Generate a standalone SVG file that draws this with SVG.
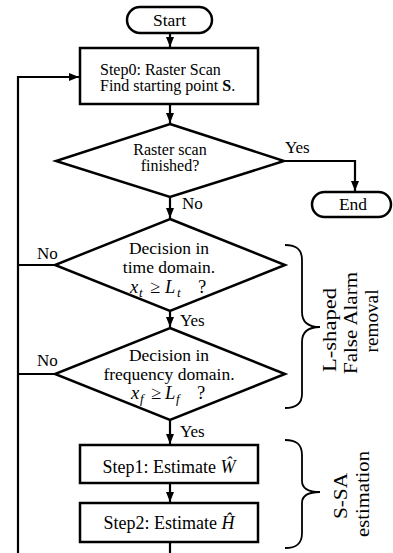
<svg xmlns="http://www.w3.org/2000/svg" width="393" height="553" viewBox="0 0 393 553" font-family="'Liberation Serif', 'DejaVu Serif', serif">
<defs>
<style>
.box{fill:#fff;stroke:#000;stroke-width:2.5}
.ln{fill:none;stroke:#000;stroke-width:2.2}
.br{fill:none;stroke:#000;stroke-width:1.8}
text{font-family:'Liberation Serif','DejaVu Serif',serif;fill:#000}
.t{font-size:17.5px;text-anchor:middle}
.t2{font-size:16px;text-anchor:middle}
.lb{font-size:17px}
.s0{font-size:16px}
.cm{font-size:18px;text-anchor:middle}
.m{font-size:18.5px}
.sub{font-size:13px;font-style:italic}
.rot{font-size:19px;text-anchor:middle}
.it{font-style:italic}
</style>
<marker id="ah" markerUnits="userSpaceOnUse" markerWidth="10" markerHeight="8" refX="10" refY="4" orient="auto">
<path d="M0,0 L10,4 L0,8 z" fill="#000"/>
</marker>
</defs>
<rect width="393" height="553" fill="#fff"/>

<g id="connectors">
<path class="ln" d="M170,33 V47" marker-end="url(#ah)"/>
<path class="ln" d="M170,104 V123" marker-end="url(#ah)"/>
<path class="ln" d="M284,161 H355 V191" marker-end="url(#ah)"/>
<path class="ln" d="M170,197 V218" marker-end="url(#ah)"/>
<path class="ln" d="M170,311 V327" marker-end="url(#ah)"/>
<path class="ln" d="M170,420 V444" marker-end="url(#ah)"/>
<path class="ln" d="M170,483 V502" marker-end="url(#ah)"/>
<path class="ln" d="M170,542 V553"/>
<path class="ln" d="M55,265 H18"/>
<path class="ln" d="M55,374 H18"/>
<path class="ln" d="M18,553 V77 H79" marker-end="url(#ah)"/>
<text class="lb" x="285" y="153">Yes</text>
<text class="lb" x="182" y="209">No</text>
<text class="lb" x="37" y="259">No</text>
<text class="lb" x="180" y="326">Yes</text>
<text class="lb" x="37" y="366">No</text>
<text class="lb" x="180" y="437">Yes</text>
</g>

<g id="start">
<rect class="box" x="127" y="7" width="85" height="26" rx="13"/>
<text class="t" x="169.5" y="26">Start</text>
</g>

<g id="step0">
<rect class="box" x="80" y="48" width="178" height="56"/>
<text class="s0" x="100" y="75">Step0: Raster Scan</text>
<text class="s0" x="100" y="91">Find starting point <tspan font-weight="bold">S</tspan>.</text>
</g>

<g id="d1">
<polygon class="box" points="170,124 284,161 170,197 56,161"/>
<text class="t2" x="170" y="155">Raster scan</text>
<text class="t2" x="170" y="171">finished?</text>
</g>

<g id="end">
<rect class="box" x="312" y="192" width="79" height="25" rx="12.5"/>
<text class="t" x="353" y="210">End</text>
</g>

<g id="d2">
<polygon class="box" points="170,219 285,265 170,311 55,265"/>
<text class="t" x="169" y="254">Decision in</text>
<text class="t" x="169" y="273">time domain.</text>
<text class="m" y="293"><tspan class="it" x="130">x</tspan><tspan class="sub" x="139" y="297">t</tspan><tspan x="150" y="293">≥</tspan><tspan class="it" x="165">L</tspan><tspan class="sub" x="177" y="297">t</tspan><tspan x="198" y="293">?</tspan></text>
</g>

<g id="d3">
<polygon class="box" points="170,328 285,374 170,420 55,374"/>
<text class="t" x="169" y="361">Decision in</text>
<text class="t" x="169" y="380">frequency domain.</text>
<text class="m" y="399"><tspan class="it" x="131">x</tspan><tspan class="sub" x="140" y="403">f</tspan><tspan x="151" y="399">≥</tspan><tspan class="it" x="165">L</tspan><tspan class="sub" x="176" y="403">f</tspan><tspan x="197" y="399">?</tspan></text>
</g>

<g id="step1">
<rect class="box" x="80" y="445" width="178" height="38"/>
<text class="cm" x="169" y="473">Step1:  Estimate <tspan class="it">Ŵ</tspan></text>
</g>

<g id="step2">
<rect class="box" x="80" y="503" width="178" height="39"/>
<text class="cm" x="169" y="529">Step2:  Estimate <tspan class="it">Ĥ</tspan></text>
</g>

<g id="lshaped-brace">
<path class="br" d="M285,245 C296,245 302,249 302,260 V312 C302,322 308,327 320,327 C308,327 302,332 302,342 V394 C302,404 296,408 285,408"/>
<text class="rot" transform="translate(336,330) rotate(-90)" textLength="84" lengthAdjust="spacingAndGlyphs">L-shaped</text>
<text class="rot" transform="translate(357,323) rotate(-90)" textLength="102" lengthAdjust="spacingAndGlyphs">False Alarm</text>
<text class="rot" transform="translate(378,321) rotate(-90)" textLength="63" lengthAdjust="spacingAndGlyphs">removal</text>
</g>

<g id="ssa-brace">
<path class="br" d="M285,440 C296,440 302,444 302,455 V481 C302,488 308,492 320,492 C308,492 302,496 302,503 V533 C302,544 296,548 285,548"/>
<text class="rot" transform="translate(347,496) rotate(-90)" textLength="46" lengthAdjust="spacingAndGlyphs">S-SA</text>
<text class="rot" transform="translate(369,494) rotate(-90)" textLength="86" lengthAdjust="spacingAndGlyphs">estimation</text>
</g>
</svg>
